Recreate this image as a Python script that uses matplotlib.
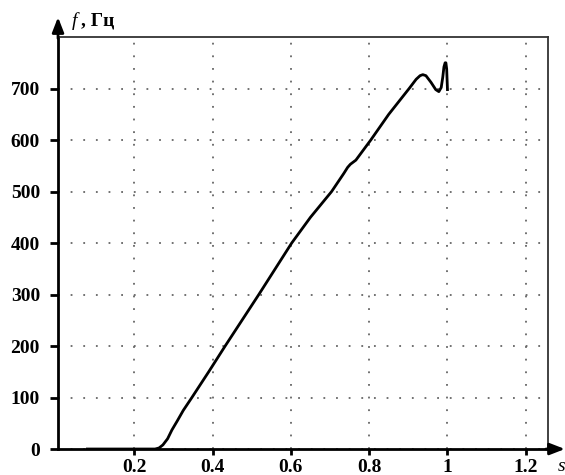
import matplotlib.pyplot as plt

# f(s) curve
s = [0.08, 0.20, 0.253, 0.263, 0.273, 0.285, 0.296, 0.31, 0.325, 0.347, 0.39,
     0.432, 0.475, 0.518, 0.56, 0.602, 0.65, 0.704, 0.735, 0.745, 0.752, 0.766,
     0.804, 0.85, 0.902, 0.92, 0.93, 0.937, 0.945, 0.958, 0.97, 0.978, 0.984,
     0.988, 0.991, 0.994, 0.996, 0.998, 0.999, 1.0]
f = [0, 0, 0, 2, 8, 20, 37, 55, 75, 100, 150,
     200, 250, 300, 350, 400, 450, 500, 535, 547, 553, 561,
     600, 650, 700, 718, 725, 727, 725, 712, 698, 694, 702,
     722, 742, 750, 750, 738, 718, 698]

xticks = [0.2, 0.4, 0.6, 0.8, 1.0, 1.2]
xticklabels = ['0.2', '0.4', '0.6', '0.8', '1', '1.2']
yticks = [0, 100, 200, 300, 400, 500, 600, 700]

plt.rcParams['font.family'] = ['Liberation Serif', 'DejaVu Serif']

fig = plt.figure(figsize=(5.65, 4.75), dpi=100)
ax = fig.add_axes([0.1027, 0.0547, 0.8673, 0.8673])

ax.plot(s, f, 'k', linewidth=2.0)

ax.set_xlim(0.005, 1.257)
ax.set_ylim(0, 800)
ax.set_xticks(xticks)
ax.set_xticklabels(xticklabels)
ax.set_yticks(yticks)
ax.tick_params(axis='y', direction='out', length=6, width=2, labelsize=14,
               colors='black', pad=7)
ax.tick_params(axis='x', direction='out', length=4, width=2, labelsize=14,
               colors='black', pad=3)
for lab in ax.get_xticklabels() + ax.get_yticklabels():
    lab.set_fontweight('bold')

ax.grid(True, color='#666666', linestyle=(0, (1, 6)), linewidth=1.3)

for side in ['left', 'bottom']:
    ax.spines[side].set_linewidth(2.0)
for side in ['top', 'right']:
    ax.spines[side].set_linewidth(1.3)
    ax.spines[side].set_color('#333333')

# axis arrows
ax.annotate('', xy=(0, 1.055), xytext=(0, 0.99), xycoords='axes fraction',
            arrowprops=dict(arrowstyle='-|>,head_length=0.9,head_width=0.35',
                            color='black', lw=2))
ax.annotate('', xy=(1.04, 0), xytext=(0.99, 0), xycoords='axes fraction',
            arrowprops=dict(arrowstyle='-|>,head_length=0.9,head_width=0.35',
                            color='black', lw=2))

fig.text(0.127, 0.955, 'f', fontsize=14, style='italic', va='center', ha='left')
fig.text(0.143, 0.955, ', Гц', fontsize=14, weight='bold', va='center', ha='left')
fig.text(0.988, 0.018, 's', fontsize=14, style='italic', va='center', ha='left')

fig.savefig('out.png', dpi=100)
